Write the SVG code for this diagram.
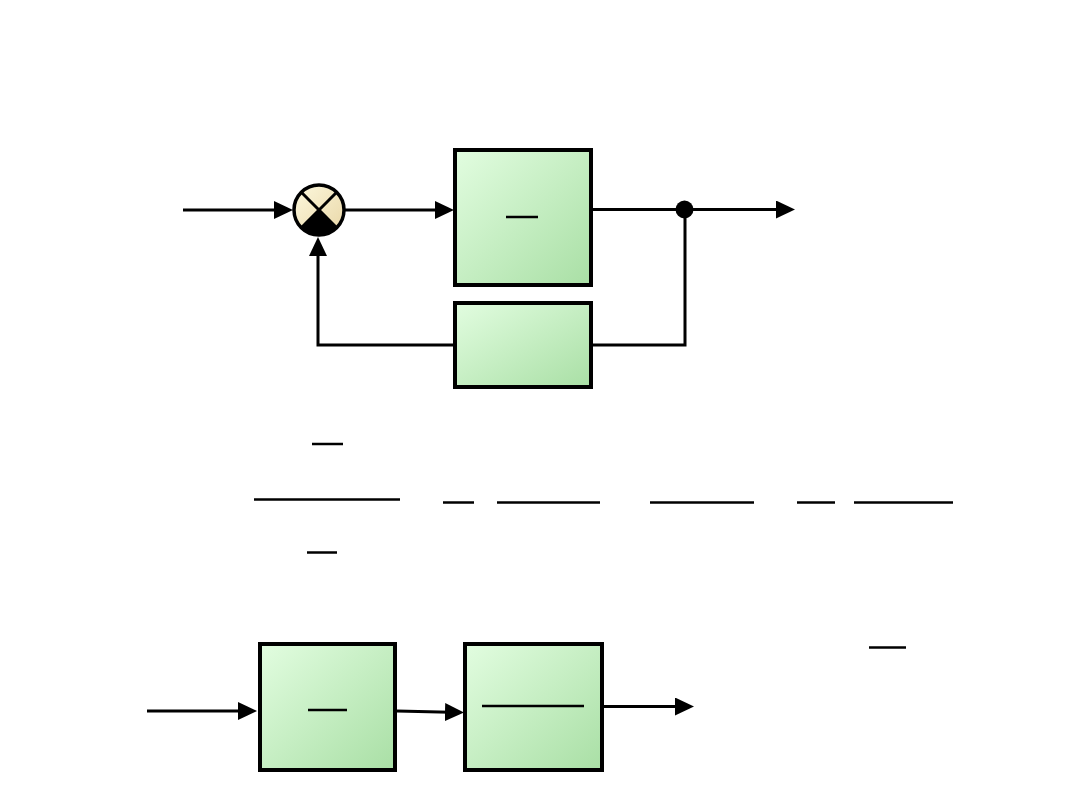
<svg xmlns="http://www.w3.org/2000/svg" width="1080" height="810" viewBox="0 0 1080 810">
<defs>
<linearGradient id="gBlock" x1="0" y1="0" x2="1" y2="1">
<stop offset="0" stop-color="#e2fde0"/>
<stop offset="1" stop-color="#a9dfa5"/>
</linearGradient>
<linearGradient id="gSum" x1="0" y1="0" x2="1" y2="1">
<stop offset="0" stop-color="#fdf9de"/>
<stop offset="1" stop-color="#e9d6a6"/>
</linearGradient>
<marker id="arr" markerWidth="20" markerHeight="18" refX="5" refY="9" orient="auto" markerUnits="userSpaceOnUse">
<path d="M0,0 L19,9 L0,18 Z" fill="#000"/>
</marker>
</defs>
<style>
.blk{fill:url(#gBlock);stroke:#000;stroke-width:4}
.ln{fill:none;stroke:#000;stroke-width:3}
.fr{stroke:#000;stroke-width:2.5}
</style>
<rect width="1080" height="810" fill="#fff"/>

<g id="connectors">
<line class="ln" x1="183" y1="210" x2="279" y2="210" marker-end="url(#arr)"/>
<line class="ln" x1="344" y1="210" x2="440" y2="210" marker-end="url(#arr)"/>
<line class="ln" x1="593" y1="209.5" x2="781" y2="209.5" marker-end="url(#arr)"/>
<polyline class="ln" points="593,345 685,345 685,210"/>
<polyline class="ln" points="455,345 318,345 318,251" marker-end="url(#arr)"/>
<line class="ln" x1="147" y1="711" x2="243" y2="711" marker-end="url(#arr)"/>
<line class="ln" x1="397" y1="711" x2="450" y2="712.2" marker-end="url(#arr)"/>
<line class="ln" x1="603" y1="706.5" x2="680" y2="706.5" marker-end="url(#arr)"/>
</g>

<g id="sum">
<circle cx="319" cy="210" r="25" fill="url(#gSum)"/>
<path d="M319,210 L301.3,227.7 A25,25 0 0 0 336.7,227.7 Z" fill="#000"/>
<line x1="301.3" y1="192.3" x2="336.7" y2="227.7" stroke="#000" stroke-width="3"/>
<line x1="336.7" y1="192.3" x2="301.3" y2="227.7" stroke="#000" stroke-width="3"/>
<circle cx="319" cy="210" r="25" fill="none" stroke="#000" stroke-width="3.5"/>
</g>

<g id="branch">
<circle cx="684.5" cy="209.5" r="9" fill="#000"/>
</g>

<g id="forward">
<rect class="blk" x="455" y="150" width="136" height="135"/>
<line class="fr" x1="506" y1="217" x2="538" y2="217"/>
</g>

<g id="feedback">
<rect class="blk" x="455" y="303" width="136" height="84"/>
</g>

<g id="formula">
<line class="fr" x1="312" y1="444" x2="343" y2="444"/>
<line class="fr" x1="254" y1="499.5" x2="400" y2="499.5"/>
<line class="fr" x1="307" y1="552.5" x2="337" y2="552.5"/>
<line class="fr" x1="443" y1="502.5" x2="474" y2="502.5"/>
<line class="fr" x1="497" y1="502.5" x2="600" y2="502.5"/>
<line class="fr" x1="650" y1="502.5" x2="754" y2="502.5"/>
<line class="fr" x1="797" y1="502.5" x2="835" y2="502.5"/>
<line class="fr" x1="854" y1="502.5" x2="953" y2="502.5"/>
<line class="fr" x1="869" y1="647.5" x2="906" y2="647.5"/>
</g>

<g id="block1">
<rect class="blk" x="260" y="644" width="135" height="126"/>
<line class="fr" x1="308" y1="710" x2="347" y2="710"/>
</g>

<g id="block2">
<rect class="blk" x="465" y="644" width="137" height="126"/>
<line class="fr" x1="482" y1="706" x2="584" y2="706"/>
</g>
</svg>
